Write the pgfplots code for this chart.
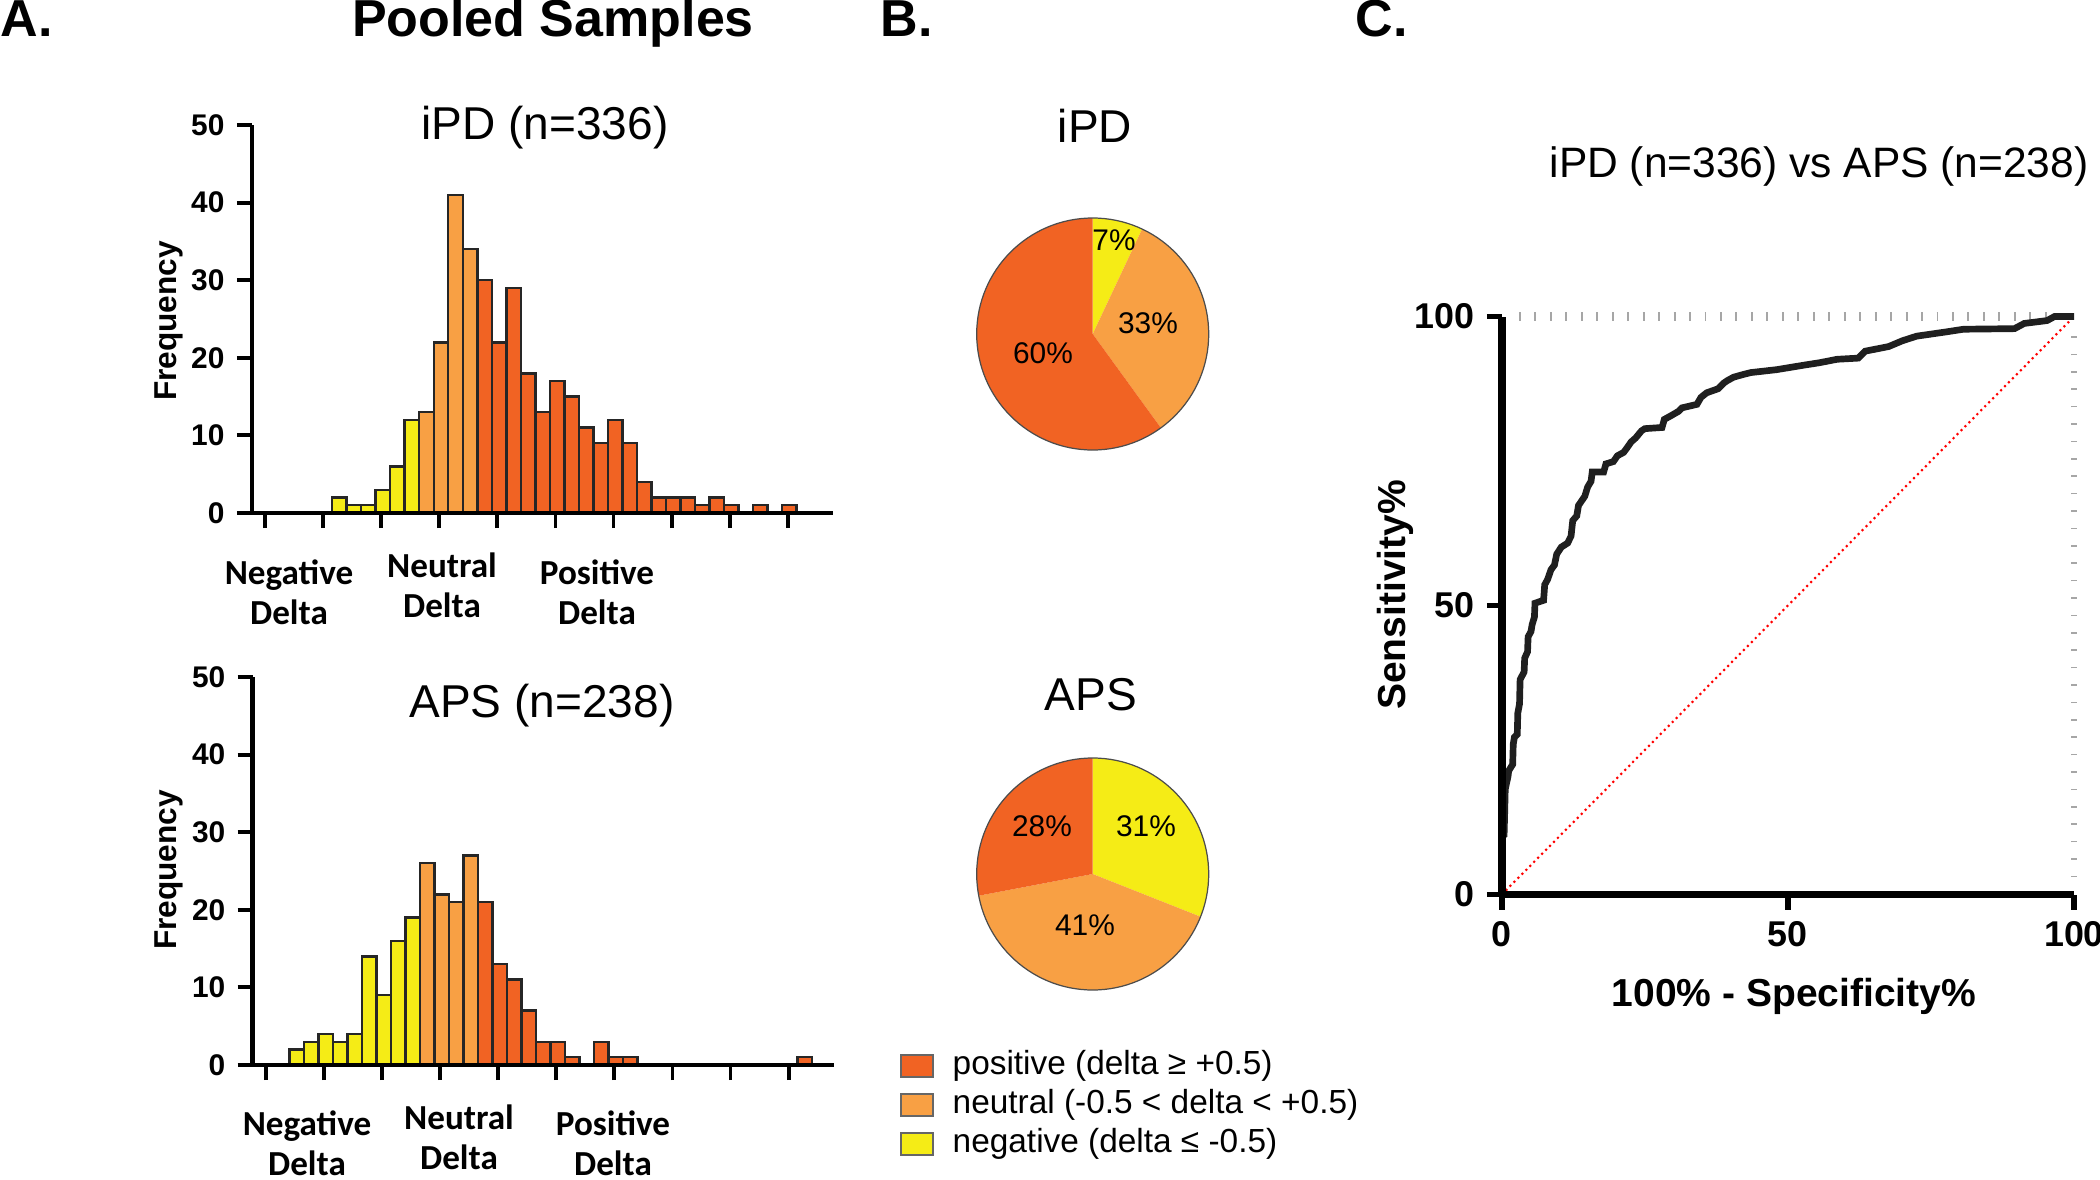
\documentclass[border=0pt]{standalone}
\usepackage{fontspec}
\setmainfont{Liberation Sans}
\newfontfamily\calibri{Carlito}
\usepackage{pgfplots}
\pgfplotsset{compat=1.18}
\definecolor{posc}{RGB}{241,99,35}
\definecolor{neuc}{RGB}{248,160,68}
\definecolor{negc}{RGB}{245,236,22}
\pgfplotsset{
 histax/.style={
  scale only axis, width=58.12mm, height=38.8mm,
  xmin=-0.231, xmax=9.78, ymin=0, ymax=50,
  axis x line*=bottom, axis y line*=left,
  axis line style={line width=1.3pt,-},
  xtick={0,...,9}, xticklabels={},
  ytick={0,10,20,30,40,50}, yticklabels={0,10,20,30,40,50},
  tick style={black,line width=1.1pt},
  major tick length=1.5mm, tick align=outside,
  yticklabel style={font=\fontsize{8.5}{9.5}\selectfont\bfseries},
  /pgf/number format/assume math mode=true,
  clip=false, axis on top,
 },
 hbar/.style={ybar, bar width=0.25, bar shift=0pt, draw=black!85, line width=0.7pt, fill=#1},
}
\newcommand{\pieslice}[3]{%
 \fill[#3] (axis cs:0,0) -- ++({90-3.6*#1}:11.6mm) arc[start angle={90-3.6*#1}, end angle={90-3.6*#2}, radius=11.6mm] -- cycle;}
\begin{document}
\begin{tikzpicture}[x=0.1mm,y=0.1mm]
\path[use as bounding box] (0,0) rectangle (2100,1179);

% ---------------- Panel A: iPD histogram
\begin{axis}[histax, at={(25.18mm,66.6mm)}, anchor=south west]
\addplot[hbar=negc] coordinates {(1.278,2) (1.528,1) (1.778,1) (2.028,3) (2.278,6) (2.528,12)};
\addplot[hbar=neuc] coordinates {(2.778,13) (3.028,22) (3.278,41) (3.528,34)};
\addplot[hbar=posc] coordinates {(3.778,30) (4.028,22) (4.278,29) (4.528,18) (4.778,13) (5.028,17) (5.278,15) (5.528,11) (5.778,9) (6.028,12) (6.278,9) (6.528,4) (6.778,2) (7.028,2) (7.278,2) (7.528,1) (7.778,2) (8.028,1) (8.528,1) (9.028,1)};
\end{axis}

% ---------------- Panel A: APS histogram
\begin{axis}[histax, at={(25.27mm,11.4mm)}, anchor=south west]
\addplot[hbar=negc] coordinates {(0.525,2) (0.775,3) (1.025,4) (1.275,3) (1.525,4) (1.775,14) (2.025,9) (2.275,16) (2.525,19)};
\addplot[hbar=neuc] coordinates {(2.775,26) (3.025,22) (3.275,21) (3.525,27)};
\addplot[hbar=posc] coordinates {(3.775,21) (4.025,13) (4.275,11) (4.525,7) (4.775,3) (5.025,3) (5.275,1) (5.775,3) (6.025,1) (6.275,1) (9.275,1)};
\end{axis}

% ---------------- Panel B: pies
\begin{axis}[hide axis, scale only axis, width=23.2mm, height=23.2mm, xmin=-1, xmax=1, ymin=-1, ymax=1, at={(109.27mm,84.5mm)}, anchor=center, clip=false]
\pieslice{0}{7}{negc}
\pieslice{7}{40}{neuc}
\pieslice{40}{100}{posc}
\draw[black!70, line width=0.35pt] (axis cs:0,0) circle[radius=11.6mm];
\end{axis}
\begin{axis}[hide axis, scale only axis, width=23.2mm, height=23.2mm, xmin=-1, xmax=1, ymin=-1, ymax=1, at={(109.27mm,30.5mm)}, anchor=center, clip=false]
\pieslice{0}{31}{negc}
\pieslice{31}{72}{neuc}
\pieslice{72}{100}{posc}
\draw[black!70, line width=0.35pt] (axis cs:0,0) circle[radius=11.6mm];
\end{axis}

% ---------------- Panel C: ROC
\begin{axis}[scale only axis, width=57.22mm, height=57.8mm, at={(150.18mm,28.45mm)}, anchor=south west,
  xmin=0, xmax=100, ymin=0, ymax=100,
  axis x line*=bottom, axis y line*=left,
  axis line style={line width=2.1pt,-},
  xtick={0,50,100}, ytick={0,50,100}, xticklabels={0,50,100}, yticklabels={0,50,100},
  tick style={black,line width=1.7pt}, major tick length=1.5mm, tick align=outside,
  ticklabel style={font=\fontsize{10.2}{12}\selectfont\bfseries},
  /pgf/number format/assume math mode=true,
  clip=false, axis on top]
\draw[gray!70, line width=2.3pt, dash pattern=on 0.55pt off 3.85pt] (axis cs:3,100) -- (axis cs:97,100);
\draw[gray!70, line width=1.6pt, dash pattern=on 0.45pt off 4.5pt] (axis cs:100,3) -- (axis cs:100,97);
\addplot[red, densely dotted, line width=0.6pt] coordinates {(0,0) (100,100)};
\addplot[black!88, line width=1.9pt, line join=miter] coordinates {
(0,0) (0,10) (0.4,10.3) (0.5,14) (0.6,18.2) (1.1,20.5) (1.2,21.4) (1.9,22.5) (2.0,26) (2.2,27.2) (2.7,27.7) (2.8,31.4) (3.1,33) (3.2,37.2) (3.9,38.5) (4.0,40.9) (4.5,42) (4.6,44.6) (5.1,45.5) (5.3,46.7) (5.7,48) (5.8,50.4) (7.3,50.9) (7.5,53.6) (8.0,54.5) (8.6,56.2) (9.2,57) (9.6,58.9) (10.4,60.1) (11.5,60.8) (12.1,62) (12.4,64.7) (13.1,65.5) (13.4,67.3) (14.5,68.9) (15.0,70.5) (15.6,71.5) (15.8,73.1) (17.8,73.1) (18.2,74.5) (19.5,74.9) (20.2,75.9) (21.3,76.5) (21.9,77.3) (22.6,78.3) (23.4,79.0) (24.4,80.2) (25,80.6) (28.0,80.8) (28.4,82.2) (29.5,82.8) (30.9,83.6) (31.5,84.2) (34.1,84.8) (34.8,86.0) (35.8,86.8) (37.8,87.5) (38.8,88.5) (39.4,88.9) (40.5,89.5) (42.3,90.0) (43.5,90.3) (48.0,90.8) (52.9,91.6) (55.5,92.0) (58.6,92.6) (62.3,92.8) (63.5,94.0) (67.6,94.8) (70.0,95.8) (72.5,96.6) (77.4,97.3) (80.7,97.8) (89.6,97.9) (91.3,98.8) (95.3,99.3) (96.6,100) (100,100)};
\end{axis}

% ---------------- texts
\begin{scope}[every node/.style={inner sep=0pt}]
\node[anchor=base west, font=\fontsize{14.8}{17}\selectfont\bfseries] at (0,1142) {A.};
\node[anchor=base, font=\fontsize{14.8}{17}\selectfont\bfseries] at (553,1142) {Pooled Samples};
\node[anchor=base west, font=\fontsize{14.8}{17}\selectfont\bfseries] at (880,1142) {B.};
\node[anchor=base west, font=\fontsize{14.8}{17}\selectfont\bfseries] at (1355,1142) {C.};

\node[anchor=base, font=\fontsize{13.1}{15}\selectfont] at (545,1039) {iPD (n=336)};
\node[anchor=base, font=\fontsize{13.1}{15}\selectfont] at (542,462) {APS (n=238)};
\node[rotate=90, font=\fontsize{9}{10}\selectfont\bfseries] at (169,858) {Frequency};
\node[rotate=90, font=\fontsize{9}{10}\selectfont\bfseries] at (169,309) {Frequency};

\begin{scope}[every node/.append style={align=center, font=\calibri\bfseries\fontsize{10}{11.4}\selectfont}]
\node at (289,587) {Negative\\Delta};
\node at (442,594) {Neutral\\Delta};
\node at (597,587) {Positive\\Delta};
\node at (307,36) {Negative\\Delta};
\node at (459,42) {Neutral\\Delta};
\node at (613,36) {Positive\\Delta};
\end{scope}

\node[anchor=base, font=\fontsize{13.1}{15}\selectfont] at (1095,1036) {iPD};
\node[anchor=base, font=\fontsize{13.1}{15}\selectfont] at (1091,469) {APS};
\begin{scope}[every node/.append style={font=\fontsize{8.5}{10}\selectfont}]
\node at (1114,939) {7\%};
\node at (1148,856) {33\%};
\node at (1043,826) {60\%};
\node at (1042,353) {28\%};
\node at (1146,353) {31\%};
\node at (1085,254) {41\%};
\end{scope}

\fill[posc, draw=black!60, line width=0.3pt] (901,102) rectangle ++(32,22);
\fill[neuc, draw=black!60, line width=0.3pt] (901,63) rectangle ++(32,22);
\fill[negc, draw=black!60, line width=0.3pt] (901,24) rectangle ++(32,22);
\begin{scope}[every node/.append style={anchor=west, font=\fontsize{9.5}{11}\selectfont}]
\node at (952,113) {positive (delta ≥ +0.5)};
\node at (952,74) {neutral (-0.5 < delta < +0.5)};
\node at (952,35) {negative (delta ≤ -0.5)};
\end{scope}

\node[anchor=base, font=\fontsize{12.1}{14}\selectfont] at (1819,1001) {iPD (n=336) vs APS (n=238)};
\node[rotate=90, font=\fontsize{11.1}{13}\selectfont\bfseries] at (1395,584) {Sensitivity\%};
\node[font=\fontsize{11.1}{13}\selectfont\bfseries] at (1794,183) {100\% - Specificity\%};
\end{scope}
\end{tikzpicture}
\end{document}
